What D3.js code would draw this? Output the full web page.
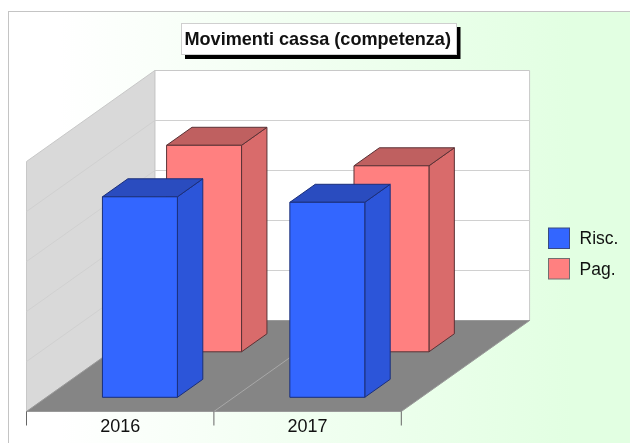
<!DOCTYPE html>
<html><head><meta charset="utf-8">
<script src="https://cdn.jsdelivr.net/npm/d3@7/dist/d3.min.js"></script>
<style>html,body{margin:0;padding:0;background:#fff}svg{display:block;filter:blur(0.35px)}text{font-family:"Liberation Sans",Arial,sans-serif;fill:#111}</style>
</head><body>
<svg id="c" width="630" height="443"></svg>
<script>
const categories = ["2016", "2017"];
const seriesNames = ["Risc.", "Pag."];
const risc = [4.01, 3.90];
const pag = [4.13, 3.72];
const gridTicks = [0, 1, 2, 3, 4, 5];
const titleText = "Movimenti cassa (competenza)";
const front = ["#3366ff", "#ff8080"];
const topC = ["#2a4cbf", "#bf6060"];
const sideC = ["#2c55d9", "#d96b6b"];
const edge = ["#1b2f7a", "#5a3236"];

const svg = d3.select("#c");
const defs = svg.append("defs");
const g = defs.append("linearGradient").attr("id", "bg").attr("x1", 0).attr("x2", 1).attr("y1", 0).attr("y2", 0);
g.append("stop").attr("offset", 0.08).attr("stop-color", "#ffffff");
g.append("stop").attr("offset", 0.88).attr("stop-color", "#e2ffe2");

svg.append("rect").attr("x", 8.5).attr("y", 11.5).attr("width", 640).attr("height", 450)
  .attr("fill", "url(#bg)").attr("stroke", "#c4c4c4");

const x = d3.scaleBand().domain(categories).range([26.5, 401.3]);
const y = d3.scaleLinear().domain([0, 5]).range([411.5, 161.5]);
const depth = d3.scaleBand().domain(seriesNames).range([0.005, 1.005]);
const dx = 128.3, dy = -91;
const P = (px, py, z) => [px + z * dx, py + z * dy];
const poly = pts => "M" + pts.map(p => p.join(",")).join("L") + "Z";
const [x0, x1] = x.range();
const [y0, y5] = y.range();

// walls and floor
svg.append("path").attr("d", poly([P(x0,y5,1),P(x1,y5,1),P(x1,y0,1),P(x0,y0,1)])).attr("fill", "#fff").attr("stroke", "#c8c8c8");
svg.append("path").attr("d", poly([P(x0,y5,0),P(x0,y5,1),P(x0,y0,1),P(x0,y0,0)])).attr("fill", "#d9d9d9").attr("stroke", "#c8c8c8");
svg.append("path").attr("d", poly([P(x0,y0,0),P(x1,y0,0),P(x1,y0,1),P(x0,y0,1)])).attr("fill", "#858585").attr("stroke", "#999");

// gridlines
gridTicks.slice(1, -1).forEach(t => {
  const a = P(x0, y(t), 0), b = P(x0, y(t), 1), c = P(x1, y(t), 1);
  svg.append("path").attr("d", `M${a}L${b}L${c}`).attr("fill", "none").attr("stroke", "#d0d0d0");
});
{
  const a = P(x0 + x.step(), y0, 0), b = P(x0 + x.step(), y0, 1);
  svg.append("path").attr("d", `M${a}L${b}`).attr("stroke", "#a8a8a8").attr("fill", "none");
}

// bars, back series first
const zWidth = 0.198;
const barW = x.bandwidth() * 0.4;
[1, 0].forEach(si => {
  const vals = si === 0 ? risc : pag;
  const name = seriesNames[si];
  const zc = depth(name) + depth.bandwidth() / 2;
  const z0 = zc - zWidth / 2, z1 = zc + zWidth / 2;
  categories.forEach((cat, i) => {
    const l = x(cat) + (x.bandwidth() - barW) / 2 - 0.3, r = l + barW;
    const t = y(vals[i]);
    const bar = svg.append("g").attr("stroke", edge[si]).attr("stroke-width", 1).attr("stroke-linejoin", "round");
    bar.append("path").attr("d", poly([P(r,y0,z0),P(r,y0,z1),P(r,t,z1),P(r,t,z0)])).attr("fill", sideC[si]);
    bar.append("path").attr("d", poly([P(l,t,z0),P(r,t,z0),P(r,t,z1),P(l,t,z1)])).attr("fill", topC[si]);
    bar.append("path").attr("d", poly([P(l,y0,z0),P(r,y0,z0),P(r,t,z0),P(l,t,z0)])).attr("fill", front[si]);
  });
});

// category axis
const axis = svg.append("g");
[x0, x0 + x.step(), x1].forEach(px => {
  axis.append("line").attr("x1", px).attr("x2", px).attr("y1", y0).attr("y2", 425.5).attr("stroke", "#666");
});
categories.forEach(c => {
  axis.append("text").attr("x", x(c) + x.bandwidth() / 2).attr("y", 432).attr("text-anchor", "middle").attr("font-size", 18).text(c);
});

// title
svg.append("rect").attr("x", 185).attr("y", 27).attr("width", 275.5).attr("height", 32).attr("fill", "#000");
svg.append("rect").attr("x", 181.5).attr("y", 23.5).attr("width", 275).attr("height", 31).attr("fill", "#fff").attr("stroke", "#cfcfcf");
svg.append("text").attr("x", 184.5).attr("y", 45).attr("font-size", 18.1).attr("font-weight", "bold").attr("fill", "#000").text(titleText);

// legend
seriesNames.forEach((n, i) => {
  const ly = 228 + i * 30.5;
  svg.append("rect").attr("x", 548.5).attr("y", ly).attr("width", 21).attr("height", 20.5).attr("fill", front[i]).attr("stroke", i ? "#707070" : "#3a4a80");
  svg.append("text").attr("x", 579.5).attr("y", ly + 16).attr("font-size", 17.5).text(n);
});
</script>
</body></html>
